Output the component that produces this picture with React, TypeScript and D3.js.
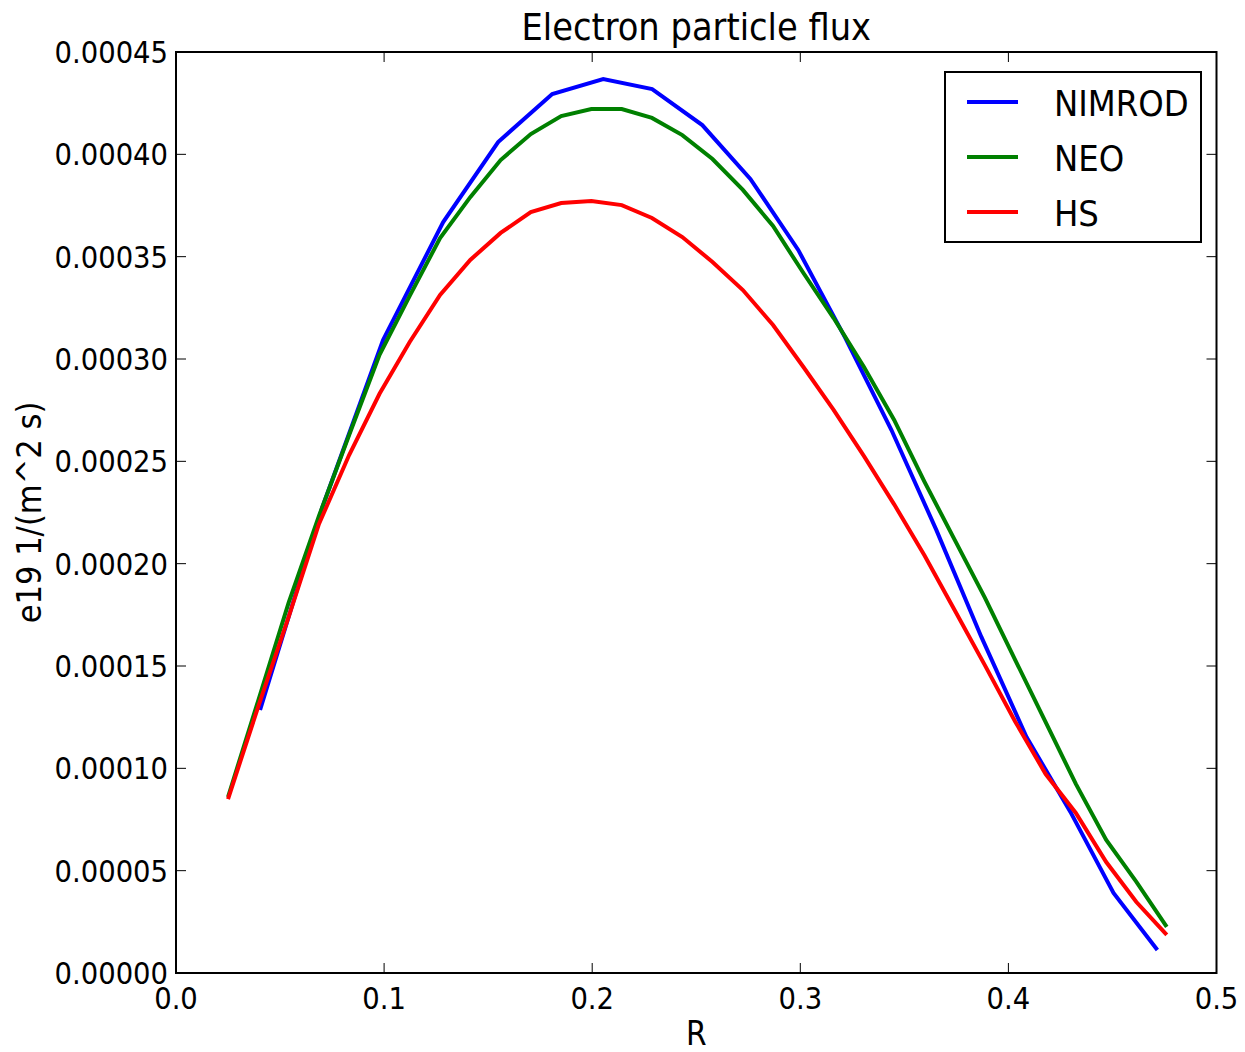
import React from "react";
import * as d3 from "d3";

const R_GRID = [0.0250, 0.0396, 0.0541, 0.0687, 0.0832, 0.0978, 0.1123, 0.1269, 0.1414, 0.1560, 0.1705, 0.1851, 0.1996, 0.2142, 0.2287, 0.2433, 0.2578, 0.2724, 0.2869, 0.3015, 0.3160, 0.3306, 0.3451, 0.3597, 0.3742, 0.3888, 0.4033, 0.4179, 0.4324, 0.4470, 0.4615, 0.4761];
const HS = [0.0000850, 0.0001304, 0.0001739, 0.0002194, 0.0002531, 0.0002830, 0.0003083, 0.0003313, 0.0003484, 0.0003616, 0.0003718, 0.0003762, 0.0003772, 0.0003752, 0.0003689, 0.0003596, 0.0003474, 0.0003337, 0.0003166, 0.0002961, 0.0002751, 0.0002525, 0.0002290, 0.0002040, 0.0001772, 0.0001502, 0.0001228, 0.0000972, 0.0000782, 0.0000542, 0.0000347, 0.0000186];
const NEO = [0.0000860, 0.0001334, 0.0001808, 0.0002233, 0.0002629, 0.0003020, 0.0003308, 0.0003591, 0.0003791, 0.0003972, 0.0004099, 0.0004187, 0.0004221, 0.0004221, 0.0004178, 0.0004094, 0.0003977, 0.0003826, 0.0003650, 0.0003420, 0.0003200, 0.0002961, 0.0002702, 0.0002400, 0.0002116, 0.0001832, 0.0001529, 0.0001226, 0.0000924, 0.0000650, 0.0000445, 0.0000225];
const R_NIMROD = [0.0404, 0.0702, 0.0995, 0.1284, 0.1548, 0.1808, 0.2053, 0.2288, 0.2529, 0.2760, 0.2990, 0.3216, 0.3438, 0.3654, 0.3870, 0.4087, 0.4298, 0.4505, 0.4716];
const NIMROD = [0.0001285, 0.0002272, 0.0003093, 0.0003669, 0.0004060, 0.0004295, 0.0004368, 0.0004319, 0.0004143, 0.0003880, 0.0003533, 0.0003103, 0.0002653, 0.0002164, 0.0001642, 0.0001153, 0.0000787, 0.0000391, 0.0000112];

const X_TICKS = [0.0, 0.1, 0.2, 0.3, 0.4, 0.5];
const X_TICK_LABELS = ["0.0", "0.1", "0.2", "0.3", "0.4", "0.5"];
const Y_TICKS = [0, 0.00005, 0.0001, 0.00015, 0.0002, 0.00025, 0.0003, 0.00035, 0.0004, 0.00045];
const Y_TICK_LABELS = ["0.00000", "0.00005", "0.00010", "0.00015", "0.00020", "0.00025", "0.00030", "0.00035", "0.00040", "0.00045"];

const SERIES_NAMES = ["NIMROD", "NEO", "HS"];
const SERIES_COLORS = ["#0000ff", "#008000", "#ff0000"];

const FONT = "'DejaVu Sans Condensed', 'DejaVu Sans', sans-serif";

export default function App() {
  const W = 1245, H = 1052;
  const L = 176, R = 1216.5, T = 52, B = 973;
  const x = d3.scaleLinear().domain([0, 0.5]).range([L, R]);
  const y = d3.scaleLinear().domain([0, 0.00045]).range([B, T]);
  const line = d3.line<[number, number]>().x(d => x(d[0])).y(d => y(d[1]));

  const series = [
    { name: SERIES_NAMES[0], color: SERIES_COLORS[0], pts: R_NIMROD.map((r, i) => [r, NIMROD[i]] as [number, number]) },
    { name: SERIES_NAMES[1], color: SERIES_COLORS[1], pts: R_GRID.map((r, i) => [r, NEO[i]] as [number, number]) },
    { name: SERIES_NAMES[2], color: SERIES_COLORS[2], pts: R_GRID.map((r, i) => [r, HS[i]] as [number, number]) },
  ];

  const tickLen = 10;
  const tickFont = 30.5;

  return (
    <svg width={W} height={H} style={{ position: "absolute", left: 0, top: 0, background: "#fff" }} fontFamily={FONT}>
      <rect x={0} y={0} width={W} height={H} fill="#fff" />
      <g>
        {series.map(s => (
          <path key={s.name} d={line(s.pts) || ""} fill="none" stroke={s.color} strokeWidth={4} strokeLinejoin="miter" />
        ))}
      </g>
      {X_TICKS.map((t, i) => (
        <g key={"xt" + i}>
          <line x1={x(t)} x2={x(t)} y1={B} y2={B - tickLen} stroke="#000" strokeWidth={1} />
          <line x1={x(t)} x2={x(t)} y1={T} y2={T + tickLen} stroke="#000" strokeWidth={1} />
          <text x={x(t)} y={B + 36} textAnchor="middle" fontSize={tickFont}>{X_TICK_LABELS[i]}</text>
        </g>
      ))}
      {Y_TICKS.map((t, i) => (
        <g key={"yt" + i}>
          <line x1={L} x2={L + tickLen} y1={y(t)} y2={y(t)} stroke="#000" strokeWidth={1} />
          <line x1={R} x2={R - tickLen} y1={y(t)} y2={y(t)} stroke="#000" strokeWidth={1} />
          <text x={L - 8} y={y(t) + 11} textAnchor="end" fontSize={tickFont}>{Y_TICK_LABELS[i]}</text>
        </g>
      ))}
      <rect x={L} y={T} width={R - L} height={B - T} fill="none" stroke="#000" strokeWidth={2} />
      <text x={(L + R) / 2} y={40} textAnchor="middle" fontSize={37.5}>Electron particle flux</text>
      <text x={(L + R) / 2} y={1045} textAnchor="middle" fontSize={33}>R</text>
      <text transform={`translate(41, ${(T + B) / 2}) rotate(-90)`} textAnchor="middle" fontSize={34}>e19 1/(m^2 s)</text>
      <rect x={945} y={72} width={256} height={170} fill="#fff" stroke="#000" strokeWidth={2} />
      {series.map((s, i) => (
        <g key={"lg" + s.name}>
          <line x1={967} x2={1018} y1={102 + i * 55} y2={102 + i * 55} stroke={s.color} strokeWidth={4} />
          <text x={1054} y={102 + i * 55 + 14} fontSize={36}>{s.name}</text>
        </g>
      ))}
    </svg>
  );
}
